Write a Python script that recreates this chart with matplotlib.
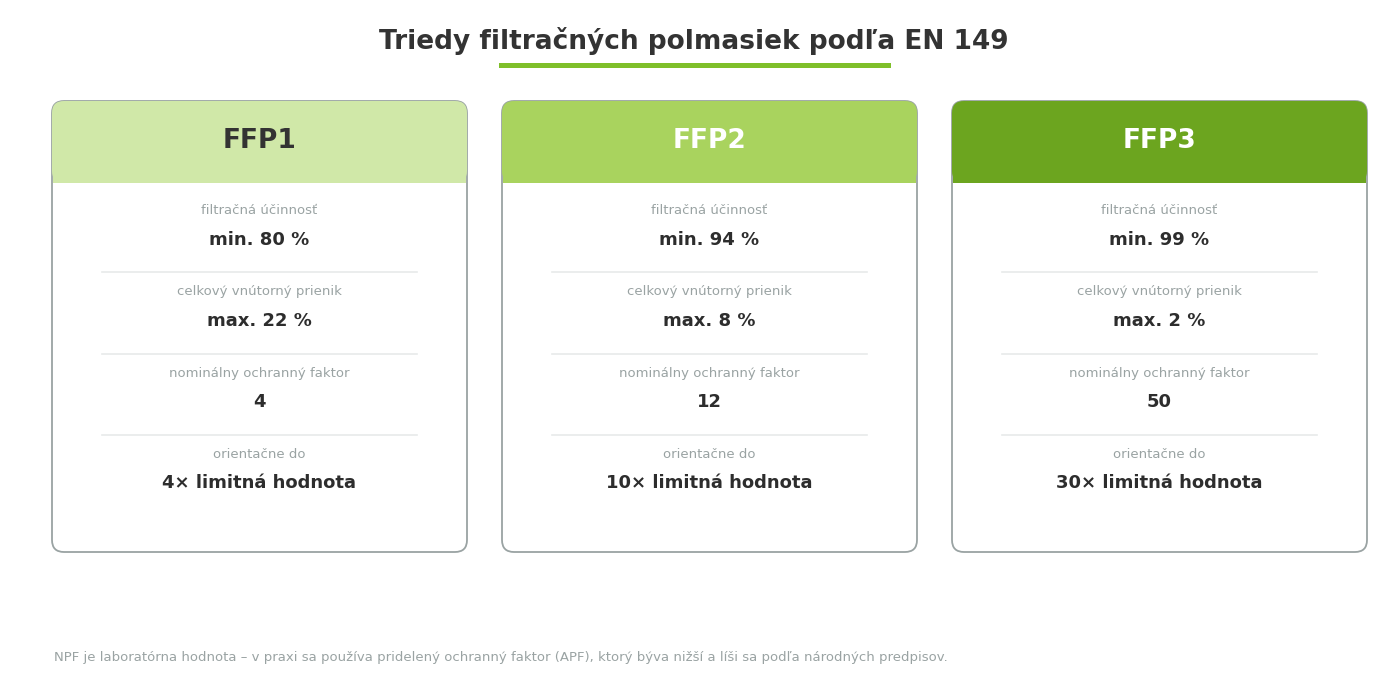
import matplotlib
matplotlib.use("Agg")
import matplotlib.pyplot as plt
from matplotlib.patches import FancyBboxPatch, Rectangle

title = "Triedy filtračných polmasiek podľa EN 149"
classes = ["FFP1", "FFP2", "FFP3"]
header_colors = ["#d0e8a8", "#a9d35e", "#6ca51f"]
header_text_colors = ["#333333", "#ffffff", "#ffffff"]
labels = ["filtračná účinnosť", "celkový vnútorný prienik", "nominálny ochranný faktor", "orientačne do"]
values = [
    ["min. 80 %", "max. 22 %", "4", "4× limitná hodnota"],
    ["min. 94 %", "max. 8 %", "12", "10× limitná hodnota"],
    ["min. 99 %", "max. 2 %", "50", "30× limitná hodnota"],
]
footnote = "NPF je laboratórna hodnota – v praxi sa používa pridelený ochranný faktor (APF), ktorý býva nižší a líši sa podľa národných predpisov."

W, H = 1389, 690
fig = plt.figure(figsize=(W/100, H/100), dpi=100)
ax = fig.add_axes([0, 0, 1, 1])
ax.set_xlim(0, W); ax.set_ylim(H, 0); ax.axis("off")

ax.text(694, 41, title, ha="center", va="center", fontsize=19, fontweight="bold", color="#333333")
ax.add_patch(Rectangle((499, 63), 392, 4.5, color="#7fbf2a", lw=0))

card_x = [52, 502, 952]
cw, top, bot, hb = 415, 101, 552, 183
label_y = [211, 292, 373, 454]
val_y = [240, 321, 402, 483]
sep_y = [272, 354, 435]
for i, x0 in enumerate(card_x):
    ax.add_patch(FancyBboxPatch((x0, top), cw, bot-top, boxstyle="round,pad=0,rounding_size=12",
                                fc="white", ec="#9aa3a3", lw=1.3, zorder=1))
    ax.add_patch(FancyBboxPatch((x0, top), cw, hb-top, boxstyle="round,pad=0,rounding_size=12",
                                fc=header_colors[i], ec="none", zorder=2))
    ax.add_patch(Rectangle((x0+1, top+20), cw-2, hb-top-20, fc=header_colors[i], ec="none", zorder=2))
    cx = x0 + cw/2
    ax.text(cx, 141, classes[i], ha="center", va="center", fontsize=19, fontweight="bold",
            color=header_text_colors[i], zorder=3)
    for j in range(4):
        ax.text(cx, label_y[j], labels[j], ha="center", va="center", fontsize=9.5, color="#9aa3a3")
        ax.text(cx, val_y[j], values[i][j], ha="center", va="center", fontsize=13, fontweight="bold", color="#2d2d2d")
    for y in sep_y:
        ax.plot([x0+50, x0+365], [y, y], color="#e8eaea", lw=1.2)

ax.text(54, 658, footnote, ha="left", va="center", fontsize=9.5, color="#9aa3a3")
fig.savefig("out.png", dpi=100)
